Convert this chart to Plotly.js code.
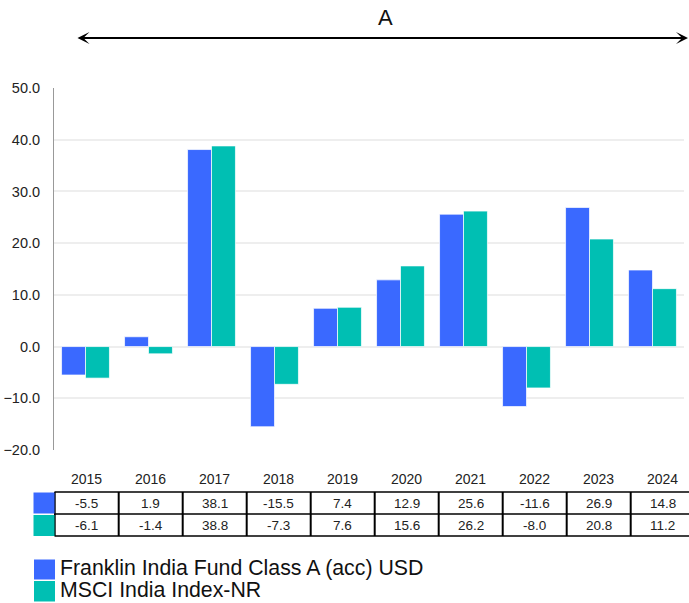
<!DOCTYPE html>
<html>
<head>
<meta charset="utf-8">
<script src="https://cdn.plot.ly/plotly-3.0.1.min.js"></script>
<style>
  html, body { margin: 0; padding: 0; background: #ffffff; }
  #chart { width: 689px; height: 603px; }
</style>
</head>
<body>
<div id="chart"></div>
<script>
// ---------- data ----------
const years = ['2015', '2016', '2017', '2018', '2019', '2020', '2021', '2022', '2023', '2024'];
const fundValues = [-5.5, 1.9, 38.1, -15.5, 7.4, 12.9, 25.6, -11.6, 26.9, 14.8];
const indexValues = [-6.1, -1.4, 38.8, -7.3, 7.6, 15.6, 26.2, -8.0, 20.8, 11.2];
const seriesNames = ['Franklin India Fund Class A (acc) USD', 'MSCI India Index-NR'];
const periodLabel = 'A';
const yRange = [-20, 50];

// ---------- styling / layout helpers ----------
const colors = ['#3a69ff', '#00bfb3'];
const W = 689, H = 603;
const M = { l: 54, r: 5, t: 88, b: 153 };
const plotW = W - M.l - M.r;      // 630
const plotH = H - M.t - M.b;      // 362
const px = p => (p - M.l) / plotW;          // page x pixel -> paper
const py = p => (H - M.b - p) / plotH;      // page y pixel -> paper
const FONT = 'Arial, "Liberation Sans", sans-serif';

const seriesValues = [fundValues, indexValues];

const traces = seriesValues.map((vals, i) => ({
  type: 'bar',
  x: years,
  y: vals,
  name: seriesNames[i],
  marker: { color: colors[i], line: { color: 'rgba(255,255,255,0.7)', width: 1 } },
  hoverinfo: 'skip'
}));
// helper trace registering the categories on the table axis
traces.push({
  type: 'scatter', mode: 'markers', x: years, y: years.map(() => null),
  xaxis: 'x2', yaxis: 'y', showlegend: false, hoverinfo: 'skip'
});

const shapes = [];
const annotations = [];

// ---- table (under the plot) ----
const tableTop = 492, tableMid = 514, tableBot = 536;
[tableTop, tableMid, tableBot].forEach(yy => {
  shapes.push({ type: 'line', xref: 'paper', yref: 'paper',
    x0: px(54.5), x1: px(692), y0: py(yy), y1: py(yy),
    line: { color: '#000', width: 1.5 } });
});
for (let i = 0; i <= years.length; i++) {
  shapes.push({ type: 'line', xref: 'x2', yref: 'paper',
    x0: i - 0.5, x1: i - 0.5, y0: py(tableTop), y1: py(tableBot),
    line: { color: '#000', width: 2 } });
}
// row swatches
const rowBands = [[492.5, 513.5], [515, 536]];
rowBands.forEach((b, i) => {
  shapes.push({ type: 'rect', xref: 'paper', yref: 'paper',
    x0: px(33.5), x1: px(54.5), y0: py(b[0]), y1: py(b[1]),
    fillcolor: colors[i], line: { width: 0 } });
});
// year labels (x = category index on the table axis)
years.forEach((yr, i) => {
  annotations.push({ xref: 'x2', yref: 'paper', x: i, y: py(479),
    text: yr, showarrow: false, xanchor: 'center', yanchor: 'middle',
    font: { family: FONT, size: 14, color: '#222' } });
});
// values
const rowCenters = [503, 525];
seriesValues.forEach((vals, r) => {
  vals.forEach((v, i) => {
    annotations.push({ xref: 'x2', yref: 'paper', x: i, y: py(rowCenters[r]),
      text: v.toFixed(1), showarrow: false, xanchor: 'center', yanchor: 'middle',
      font: { family: FONT, size: 13.5, color: '#222' } });
  });
});

// ---- legend ----
const legendBands = [[559.5, 579.5], [581, 601.5]];
const legendCenters = [568, 590];
seriesNames.forEach((nm, i) => {
  shapes.push({ type: 'rect', xref: 'paper', yref: 'paper',
    x0: px(34), x1: px(55), y0: py(legendBands[i][0]), y1: py(legendBands[i][1]),
    fillcolor: colors[i], line: { width: 0 } });
  annotations.push({ xref: 'paper', yref: 'paper', x: px(57.5), y: py(legendCenters[i]),
    text: nm, showarrow: false, xanchor: 'left', yanchor: 'middle',
    font: { family: FONT, size: 21.3, color: '#111' } });
});

// ---- period arrow and label ----
annotations.push({ xref: 'paper', yref: 'paper', x: px(688), y: py(38),
  axref: 'paper', ayref: 'paper', ax: px(76), ay: py(38),
  text: '', showarrow: true, arrowside: 'end+start', arrowhead: 3, startarrowhead: 3,
  arrowsize: 1, startarrowsize: 1, arrowwidth: 2, arrowcolor: '#000', standoff: 0, startstandoff: 0 });
annotations.push({ xref: 'paper', yref: 'paper', x: px(385.5), y: py(17.5),
  text: periodLabel, showarrow: false, xanchor: 'center', yanchor: 'middle',
  font: { family: FONT, size: 22, color: '#111' } });

const layout = {
  width: W, height: H,
  margin: { l: M.l, r: M.r, t: M.t, b: M.b, pad: 0 },
  paper_bgcolor: '#ffffff', plot_bgcolor: '#ffffff',
  showlegend: false,
  barmode: 'group', bargap: 0.24, bargroupgap: 0,
  font: { family: FONT, color: '#222' },
  xaxis: {
    type: 'category', categoryorder: 'array', categoryarray: years,
    range: [-0.5, years.length - 0.5],
    showticklabels: false, showgrid: false, zeroline: false, showline: false, ticks: ''
  },
  xaxis2: {
    type: 'category', categoryorder: 'array', categoryarray: years,
    overlaying: 'x', anchor: 'y',
    range: [-0.5 - 0.7 / 64, -0.5 - 0.7 / 64 + plotW / 64],
    visible: false
  },
  yaxis: {
    range: yRange, dtick: 10, tick0: 0, tickformat: '.1f',
    showgrid: true, gridcolor: '#eeeeee', gridwidth: 2,
    zeroline: true, zerolinecolor: '#eeeeee', zerolinewidth: 2,
    showline: true, linecolor: '#999999', linewidth: 1,
    ticks: '', ticklabelstandoff: 10,
    tickfont: { family: FONT, size: 14.5, color: '#222' }
  },
  shapes: shapes,
  annotations: annotations
};

Plotly.newPlot('chart', traces, layout, { displayModeBar: false, staticPlot: true });
</script>
</body>
</html>
